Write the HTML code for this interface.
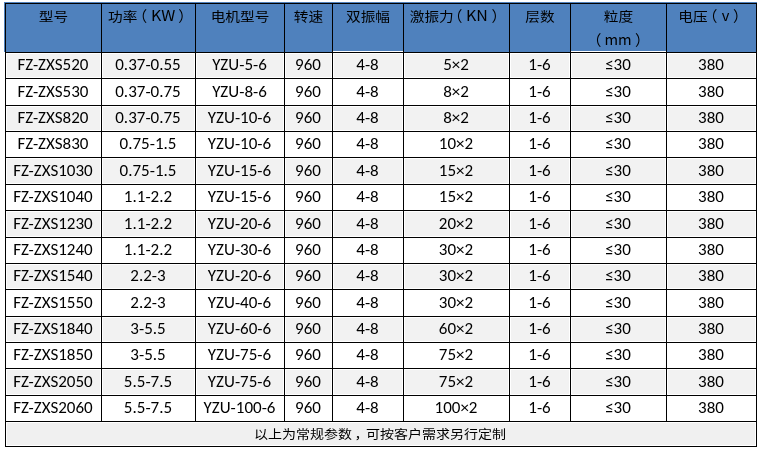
<!DOCTYPE html>
<html><head><meta charset="utf-8">
<style>
html,body{margin:0;padding:0;background:#fff;width:762px;height:449px;overflow:hidden;}
.wrap{position:absolute;left:5px;top:3px;}
.edge{position:absolute;background:#4f81bd;}
table{border-collapse:separate;border-spacing:0;table-layout:fixed;border-left:1px solid #000;border-top:1px solid #000;}
td{border-right:1px solid #000;border-bottom:1px solid #000;padding:0;text-align:center;
  font-family:Carlito,"Liberation Sans","Noto Sans CJK SC",sans-serif;font-size:17px;color:#000;
  box-sizing:border-box;white-space:nowrap;overflow:hidden;}
tr.h td{background:#4f81bd;vertical-align:top;font-family:"Noto Sans CJK SC","Liberation Sans",sans-serif;font-size:14.67px;line-height:25px;}
.hc{height:48px;overflow:visible;}
.k{display:inline-block;transform-origin:50% 0;transform:translateY(0.67px) scaleY(0.86);}
.l{position:relative;top:-2px;left:-1px;}
.p{position:relative;top:-1px;}
.p.o{left:-5px;}
.p.c{left:4px;}
.u{display:inline-block;transform-origin:0 50%;transform:scaleX(1.09);}
.l2{position:relative;top:-1px;display:inline-block;}
tr.g td,tr.w td{padding-bottom:2px;padding-right:1px;}
tr.g td{background:#f2f2f2;box-shadow:inset 0 0 0 1px #fff;}
tr.w td{background:#fff;}
tr.f td{background:#f0f0f0;box-shadow:inset 0 0 0 1px #fff;font-family:"Noto Sans CJK SC","Liberation Sans",sans-serif;font-size:14px;}

.fk{display:inline-block;transform-origin:50% 4px;transform:translateX(-1px) scaleY(0.89);}
.cm{position:relative;left:2.5px;}
td.wb{box-shadow:inset 0 -1px 0 0 #fff;}
</style></head><body>
<div class="edge" style="left:4px;top:2px;width:753px;height:1px"></div>
<div class="edge" style="left:4px;top:2px;width:1px;height:50px"></div>
<div class="wrap">
<table>
<colgroup>
<col style="width:96px"><col style="width:94px"><col style="width:89px"><col style="width:48px"><col style="width:71px"><col style="width:106px"><col style="width:61px"><col style="width:96px"><col style="width:90px">
</colgroup>
<tr class="h" style="height:49px"><td><div class="hc"><span class="k">型号</span></div></td><td><div class="hc"><span class="k">功率</span><span class="p o">（</span><span class="l u">KW</span><span class="p c">）</span></div></td><td><div class="hc"><span class="k">电机型号</span></div></td><td><div class="hc"><span class="k">转速</span></div></td><td class="wb"><div class="hc"><span class="k">双振幅</span></div></td><td><div class="hc"><span class="k">激振力</span><span class="p o" style="left:-6px">（</span><span class="l u" style="left:-2px">KN</span><span class="p c" style="left:3px">）</span></div></td><td><div class="hc"><span class="k">层数</span></div></td><td class="wb"><div class="hc"><span class="k">粒度</span><br><span class="l2"><span class="p o" style="left:-3.5px">（</span><span class="l" style="left:-0.5px">mm</span><span class="p c" style="left:3px">）</span></span></div></td><td><div class="hc"><span class="k">电压</span><span class="p o">（</span><span class="l" style="left:-0.5px">v</span><span class="p c" style="left:3px">）</span></div></td></tr>
<tr class="g" style="height:26px"><td>FZ-ZXS520</td><td>0.37-0.55</td><td>YZU-5-6</td><td>960</td><td>4-8</td><td>5×2</td><td>1-6</td><td>≤30</td><td>380</td></tr>
<tr class="w" style="height:27px"><td>FZ-ZXS530</td><td>0.37-0.75</td><td>YZU-8-6</td><td>960</td><td>4-8</td><td>8×2</td><td>1-6</td><td>≤30</td><td>380</td></tr>
<tr class="g" style="height:26px"><td>FZ-ZXS820</td><td>0.37-0.75</td><td>YZU-10-6</td><td>960</td><td>4-8</td><td>8×2</td><td>1-6</td><td>≤30</td><td>380</td></tr>
<tr class="w" style="height:26px"><td>FZ-ZXS830</td><td>0.75-1.5</td><td>YZU-10-6</td><td>960</td><td>4-8</td><td>10×2</td><td>1-6</td><td>≤30</td><td>380</td></tr>
<tr class="g" style="height:27px"><td>FZ-ZXS1030</td><td>0.75-1.5</td><td>YZU-15-6</td><td>960</td><td>4-8</td><td>15×2</td><td>1-6</td><td>≤30</td><td>380</td></tr>
<tr class="w" style="height:26px"><td>FZ-ZXS1040</td><td>1.1-2.2</td><td>YZU-15-6</td><td>960</td><td>4-8</td><td>15×2</td><td>1-6</td><td>≤30</td><td>380</td></tr>
<tr class="g" style="height:27px"><td>FZ-ZXS1230</td><td>1.1-2.2</td><td>YZU-20-6</td><td>960</td><td>4-8</td><td>20×2</td><td>1-6</td><td>≤30</td><td>380</td></tr>
<tr class="w" style="height:26px"><td>FZ-ZXS1240</td><td>1.1-2.2</td><td>YZU-30-6</td><td>960</td><td>4-8</td><td>30×2</td><td>1-6</td><td>≤30</td><td>380</td></tr>
<tr class="g" style="height:26px"><td>FZ-ZXS1540</td><td>2.2-3</td><td>YZU-20-6</td><td>960</td><td>4-8</td><td>30×2</td><td>1-6</td><td>≤30</td><td>380</td></tr>
<tr class="w" style="height:27px"><td>FZ-ZXS1550</td><td>2.2-3</td><td>YZU-40-6</td><td>960</td><td>4-8</td><td>30×2</td><td>1-6</td><td>≤30</td><td>380</td></tr>
<tr class="g" style="height:26px"><td>FZ-ZXS1840</td><td>3-5.5</td><td>YZU-60-6</td><td>960</td><td>4-8</td><td>60×2</td><td>1-6</td><td>≤30</td><td>380</td></tr>
<tr class="w" style="height:26px"><td>FZ-ZXS1850</td><td>3-5.5</td><td>YZU-75-6</td><td>960</td><td>4-8</td><td>75×2</td><td>1-6</td><td>≤30</td><td>380</td></tr>
<tr class="g" style="height:27px"><td>FZ-ZXS2050</td><td>5.5-7.5</td><td>YZU-75-6</td><td>960</td><td>4-8</td><td>75×2</td><td>1-6</td><td>≤30</td><td>380</td></tr>
<tr class="w" style="height:26px"><td>FZ-ZXS2060</td><td>5.5-7.5</td><td>YZU-100-6</td><td>960</td><td>4-8</td><td>100×2</td><td>1-6</td><td>≤30</td><td>380</td></tr>
<tr class="f" style="height:25px"><td colspan="9"><span class="fk">以上为常规参数<span class="cm">，</span>可按客户需求另行定制</span></td></tr>
</table>
</div>
</body></html>
